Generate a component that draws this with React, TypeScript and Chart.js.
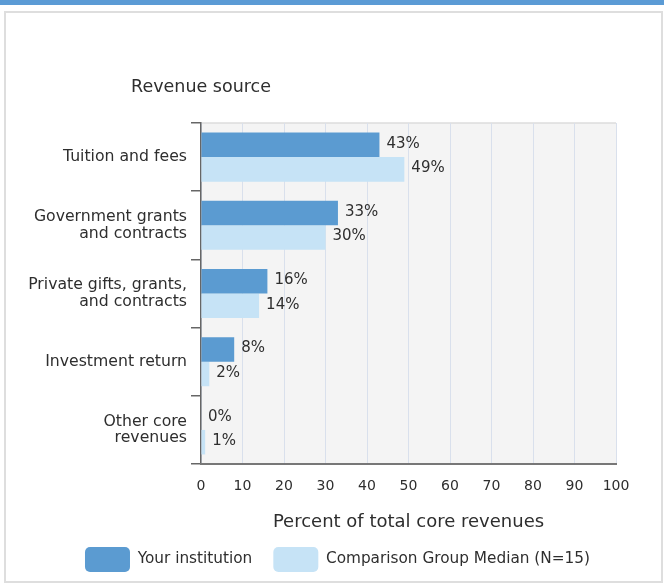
import React, { useEffect, useRef } from "react";
import { Chart, registerables } from "chart.js";

Chart.register(...registerables);

const categories: string[][] = [
  ["Tuition and fees"],
  ["Government grants", "and contracts"],
  ["Private gifts, grants,", "and contracts"],
  ["Investment return"],
  ["Other core", "revenues"],
];
const yourInstitution = [43, 33, 16, 8, 0];
const comparisonMedian = [49, 30, 14, 2, 1];
const seriesLabels = ["Your institution", "Comparison Group Median (N=15)"];
const seriesColors = ["#5b9bd1", "#c6e3f6"];
const xMin = 0;
const xMax = 100;
const xStep = 10;
const yTitle = "Revenue source";
const xTitle = "Percent of total core revenues";

const FONT = "'DejaVu Sans', sans-serif";
const TEXT = "#2e2e2e";

export default function App() {
  const ref = useRef<HTMLCanvasElement>(null);

  useEffect(() => {
    const canvas = ref.current;
    if (!canvas) return;

    const bgPlugin = {
      id: "plotBg",
      afterLayout(chart: any) {
        // centre the legend row under the whole panel
        if (chart.legend) {
          chart.legend.left = 59;
          chart.legend.right = 616;
        }
      },
      beforeDraw(chart: any) {
        const { ctx, chartArea: a } = chart;
        ctx.save();
        ctx.fillStyle = "#f4f4f4";
        ctx.fillRect(a.left, a.top, a.right - a.left, a.bottom - a.top);
        ctx.strokeStyle = "#dcdcdc";
        ctx.lineWidth = 1.5;
        ctx.beginPath();
        ctx.moveTo(a.left, a.top);
        ctx.lineTo(a.right, a.top);
        ctx.stroke();
        ctx.restore();
      },
    };

    const valuePlugin = {
      id: "valueLabels",
      afterDatasetsDraw(chart: any) {
        const { ctx } = chart;
        ctx.save();
        ctx.font = `15px ${FONT}`;
        ctx.fillStyle = TEXT;
        ctx.textAlign = "left";
        ctx.textBaseline = "middle";
        chart.data.datasets.forEach((ds: any, i: number) => {
          const meta = chart.getDatasetMeta(i);
          meta.data.forEach((el: any, j: number) => {
            const { x, y } = el.getProps(["x", "y"], true);
            ctx.fillText(`${ds.data[j]}%`, x + 7, y - 1);
          });
        });
        ctx.restore();
      },
    };

    const titlePlugin = {
      id: "catTitle",
      afterDraw(chart: any) {
        const { ctx, chartArea: a } = chart;
        ctx.save();
        ctx.font = `17.5px ${FONT}`;
        ctx.fillStyle = TEXT;
        ctx.textAlign = "center";
        ctx.textBaseline = "middle";
        ctx.fillText(yTitle, a.left, a.top - 36);
        ctx.restore();
      },
    };

    const chart = new Chart(canvas, {
      type: "bar",
      data: {
        labels: categories,
        datasets: [
          {
            label: seriesLabels[0],
            data: yourInstitution,
            backgroundColor: seriesColors[0],
            borderWidth: 0,
            barPercentage: 1,
            categoryPercentage: 0.72,
          },
          {
            label: seriesLabels[1],
            data: comparisonMedian,
            backgroundColor: seriesColors[1],
            borderWidth: 0,
            barPercentage: 1,
            categoryPercentage: 0.72,
          },
        ],
      },
      options: {
        indexAxis: "y",
        responsive: false,
        animation: false,
        devicePixelRatio: 1,
        layout: { padding: { top: 123, left: 12, right: 48, bottom: 2 } },
        scales: {
          y: {
            type: "category",
            afterFit: (s: any) => {
              s.width = 189;
            },
            ticks: {
              color: TEXT,
              font: { family: FONT, size: 15.7, lineHeight: 1.07 },
              padding: 4,
              autoSkip: false,
            },
            grid: {
              display: true,
              drawOnChartArea: false,
              drawTicks: true,
              tickLength: 10,
              color: "#666666",
              lineWidth: 1.5,
              offset: true,
            },
            border: { display: true, color: "#666666", width: 1.5 },
          },
          x: {
            type: "linear",
            min: xMin,
            max: xMax,
            afterFit: (s: any) => {
              s.height = 62;
            },
            ticks: {
              stepSize: xStep,
              color: TEXT,
              font: { family: FONT, size: 14 },
              padding: 14,
            },
            grid: { color: "#d9e0ec", lineWidth: 1, drawTicks: false },
            border: { display: true, color: "#777777", width: 2 },
            title: {
              display: true,
              text: xTitle,
              color: TEXT,
              font: { family: FONT, size: 18, lineHeight: 1 },
              padding: { top: 0, bottom: -5 },
            },
          },
        },
        plugins: {
          legend: {
            position: "bottom",
            labels: {
              boxWidth: 45,
              boxHeight: 25,
              padding: 21,
              color: TEXT,
              font: { family: FONT, size: 15.3 },
              useBorderRadius: true,
              borderRadius: 5,
            },
          },
          tooltip: { enabled: false },
          title: { display: false },
        },
      },
      plugins: [bgPlugin, valuePlugin, titlePlugin],
    } as any);

    return () => chart.destroy();
  }, []);

  return (
    <div
      style={{
        position: "fixed",
        left: 0,
        top: 0,
        width: 664,
        height: 584,
        background: "#ffffff",
        overflow: "hidden",
      }}
    >
      <div
        style={{
          position: "absolute",
          left: 0,
          top: 0,
          width: 664,
          height: 5,
          background: "#5b9bd5",
        }}
      />
      <div
        style={{
          position: "absolute",
          left: 4,
          top: 11,
          width: 655,
          height: 568,
          border: "2px solid #dedede",
        }}
      />
      <canvas
        ref={ref}
        width={664}
        height={584}
        style={{ position: "absolute", left: 0, top: 0, width: 664, height: 584 }}
      />
    </div>
  );
}
